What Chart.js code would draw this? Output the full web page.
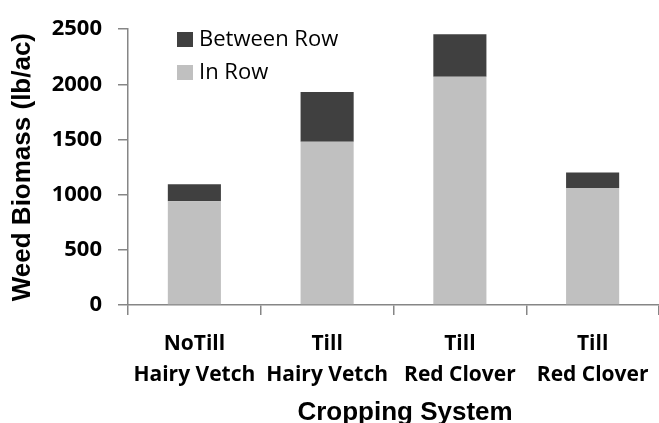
<!DOCTYPE html>
<html>
<head>
<meta charset="utf-8">
<script src="https://cdn.jsdelivr.net/npm/chart.js@4.4.1/dist/chart.umd.min.js"></script>
<style>
	html, body { margin: 0; padding: 0; background: #fff; }
	#wrap { width: 659px; height: 423px; }
</style>
</head>
<body>
<div id="wrap"><canvas id="myChart" width="659" height="423"></canvas></div>
<script>
const categories = [
	['NoTill', 'Hairy Vetch'],
	['Till', 'Hairy Vetch'],
	['Till', 'Red Clover'],
	['Till', 'Red Clover']
];
const inRow = [940, 1480, 2070, 1060];
const betweenRow = [155, 450, 385, 140];
const yTicks = [0, 500, 1000, 1500, 2000, 2500];
const xTitle = 'Cropping System';

const axisGrey = '#868686';
const labelFont = 'Open Sans';
const titleFont = 'Liberation Sans';

// legend inside the plot (Between Row first) + x axis title, which sits right of centre
const boxLegend = {
	id: 'boxLegend',
	afterDraw(chart) {
		const c = chart.ctx;
		const sets = chart.data.datasets.slice().reverse();
		c.save();
		c.font = '22px ' + labelFont;
		c.textBaseline = 'middle';
		c.textAlign = 'left';
		sets.forEach((ds, i) => {
			const y = 32 + i * 33;
			c.fillStyle = ds.backgroundColor;
			c.fillRect(177, y, 16, 15);
			c.fillStyle = '#000';
			c.fillText(ds.label, 199, y + 8);
		});

		const area = chart.chartArea;
		c.font = 'bold 26px ' + titleFont;
		c.textAlign = 'center';
		c.textBaseline = 'alphabetic';
		c.fillText(xTitle, 405, 420);
		c.restore();
	}
};

const ctx = document.getElementById('myChart');

new Chart(ctx, {
	type: 'bar',
	data: {
		labels: categories,
		datasets: [{
			label: 'In Row',
			data: inRow,
			backgroundColor: '#c0c0c0',
			categoryPercentage: 1,
			barPercentage: 0.4
		}, {
			label: 'Between Row',
			data: betweenRow,
			backgroundColor: '#404040',
			categoryPercentage: 1,
			barPercentage: 0.4
		}]
	},
	options: {
		responsive: false,
		animation: false,
		layout: { padding: { top: 20, right: -11, left: 0, bottom: 0 } },
		plugins: {
			legend: { display: false },
			tooltip: { enabled: false }
		},
		scales: {
			x: {
				stacked: true,
				grid: { drawOnChartArea: false, tickLength: 10, color: axisGrey, lineWidth: 1.5 },
				border: { color: axisGrey, width: 1.5 },
				ticks: {
					color: '#000',
					padding: 13,
					maxRotation: 0,
					font: { family: labelFont, weight: 'bold', size: 21, lineHeight: 1.5 }
				},
				afterFit(scale) { scale.height = 118; scale.paddingRight = 0; }
			},
			y: {
				stacked: true,
				min: 0,
				max: 2500,
				afterBuildTicks(scale) { scale.ticks = yTicks.map(v => ({ value: v })); },
				grid: { drawOnChartArea: false, tickLength: 10, color: axisGrey, lineWidth: 1.5 },
				border: { color: axisGrey, width: 1.5 },
				ticks: {
					color: '#000',
					padding: 16,
					callback: v => String(v),
					font: { family: labelFont, weight: 'bold', size: 22 }
				},
				title: {
					display: true,
					text: 'Weed Biomass (lb/ac)',
					color: '#000',
					padding: { top: 7, bottom: 0 },
					font: { family: titleFont, weight: 'bold', size: 26 }
				},
				afterFit(scale) { scale.width = 128; }
			}
		}
	},
	plugins: [boxLegend]
});
</script>
</body>
</html>
